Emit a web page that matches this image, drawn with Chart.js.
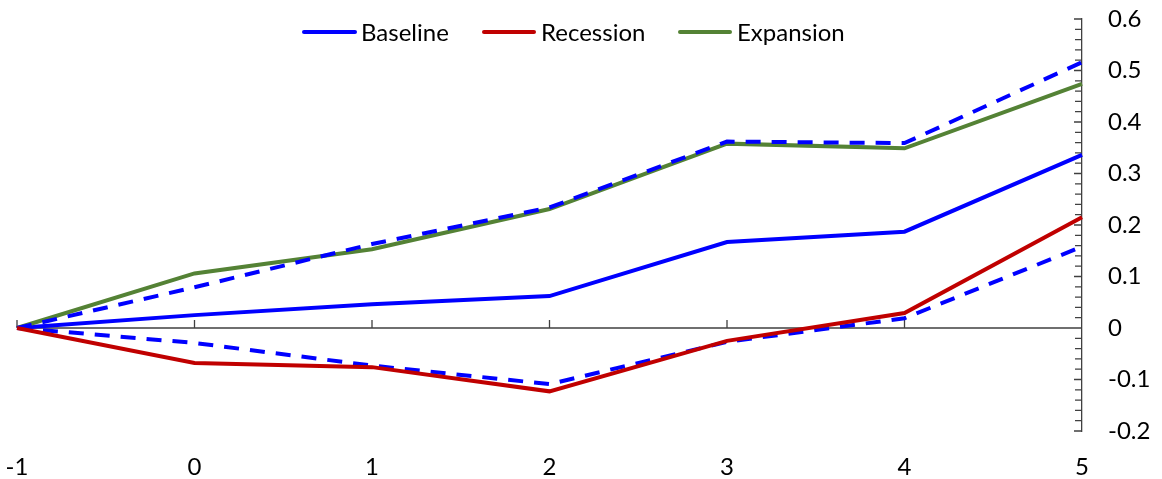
<!DOCTYPE html>
<html>
<head>
<meta charset="utf-8">
<script src="https://cdn.jsdelivr.net/npm/chart.js@4.4.1/dist/chart.umd.min.js"></script>
<style>
  body { margin: 0; background: #fff; }
  #wrap { position: relative; width: 1162px; height: 479px; }
  .key { position: absolute; height: 4px; top: 30px; border-radius: 2px; }
  .lbl { position: absolute; top: 17px; font: 24px Lato, sans-serif; color: #000; line-height: 30px; white-space: nowrap; }
</style>
</head>
<body>
<div id="wrap">
  <canvas id="chart" width="1162" height="479"></canvas>
  <div class="key" style="left:302px;width:55px;background:#0000FF"></div>
  <div class="lbl" style="left:361px">Baseline</div>
  <div class="key" style="left:482px;width:54px;background:#C00000"></div>
  <div class="lbl" style="left:541px">Recession</div>
  <div class="key" style="left:678px;width:54px;background:#548235"></div>
  <div class="lbl" style="left:737px">Expansion</div>
</div>
<script>
// values
var years = ["-1", "0", "1", "2", "3", "4", "5"];
var baseline = [0, 0.025, 0.046, 0.062, 0.167, 0.187, 0.336];
var recession = [0, -0.068, -0.076, -0.123, -0.025, 0.029, 0.215];
var expansion = [0, 0.106, 0.153, 0.231, 0.358, 0.349, 0.474];
var bandHigh = [0, 0.079, 0.163, 0.234, 0.362, 0.359, 0.516];
var bandLow = [0, -0.029, -0.073, -0.109, -0.027, 0.019, 0.158];

var yMin = -0.2, yMax = 0.6, yStep = 0.1;
var font = { family: "Lato", size: 24 };

// zero axis line, category ticks and the inward ticks on the right axis
var axisMarks = {
  id: "axisMarks",
  beforeDatasetsDraw(chart) {
    var ctx = chart.ctx, x = chart.scales.x, y = chart.scales.y;
    var area = chart.chartArea;
    var y0 = y.getPixelForValue(0);
    ctx.save();
    ctx.strokeStyle = "#404040";
    ctx.lineWidth = 1.3;
    ctx.beginPath();
    ctx.moveTo(area.left, y0);
    ctx.lineTo(area.right, y0);
    for (let i = 0; i < years.length - 1; i++) {
      var px = x.getPixelForValue(i);
      ctx.moveTo(px, y0);
      ctx.lineTo(px, y0 - 8);
    }
    var ticks = y.ticks;
    for (let i = 0; i < ticks.length; i++) {
      var py = y.getPixelForValue(ticks[i].value);
      ctx.moveTo(area.right - 8, py);
      ctx.lineTo(area.right, py);
      if (i < ticks.length - 1) {
        var next = y.getPixelForValue(ticks[i + 1].value);
        for (let k = 1; k < 5; k++) {
          var my = py + (next - py) * k / 5;
          ctx.moveTo(area.right - 7, my);
          ctx.lineTo(area.right, my);
        }
      }
    }
    ctx.stroke();
    ctx.restore();
  }
};

function line(label, data, color, dashed) {
  return {
    label: label,
    data: data,
    borderColor: color,
    backgroundColor: color,
    borderWidth: 4,
    borderDash: dashed ? [15, 11] : [],
    pointRadius: 0,
    tension: 0,
    fill: false
  };
}

function noPad(s) {
  s.paddingLeft = 0;
  s.paddingRight = 0;
  s.paddingTop = 0;
  s.paddingBottom = 0;
}

new Chart(document.getElementById("chart"), {
  type: "line",
  data: {
    labels: years,
    datasets: [
      line("Recession", recession, "#C00000", false),
      line("Upper", bandHigh, "#0000FF", true),
      line("Lower", bandLow, "#0000FF", true),
      line("Expansion", expansion, "#548235", false),
      line("Baseline", baseline, "#0000FF", false)
    ]
  },
  options: {
    responsive: false,
    animation: false,
    events: [],
    layout: { padding: { left: 17, top: 19, right: 0, bottom: 0 } },
    plugins: { legend: { display: false }, tooltip: { enabled: false } },
    scales: {
      x: {
        offset: false,
        grid: { display: false, drawTicks: false },
        border: { display: false },
        ticks: { font: font, color: "#000", padding: 22, maxRotation: 0, autoSkip: false },
        afterFit(s) { s.height = 48; noPad(s); }
      },
      y: {
        position: "right",
        min: yMin,
        max: yMax,
        grid: { display: false, drawTicks: false },
        border: { display: true, color: "#404040", width: 1.3 },
        ticks: {
          stepSize: yStep,
          font: font,
          color: "#000",
          padding: 26,
          crossAlign: "near",
          callback: function (v) { return String(Math.round(v * 10) / 10); }
        },
        afterFit(s) { s.width = 80; noPad(s); }
      }
    }
  },
  plugins: [axisMarks]
});
</script>
</body>
</html>
